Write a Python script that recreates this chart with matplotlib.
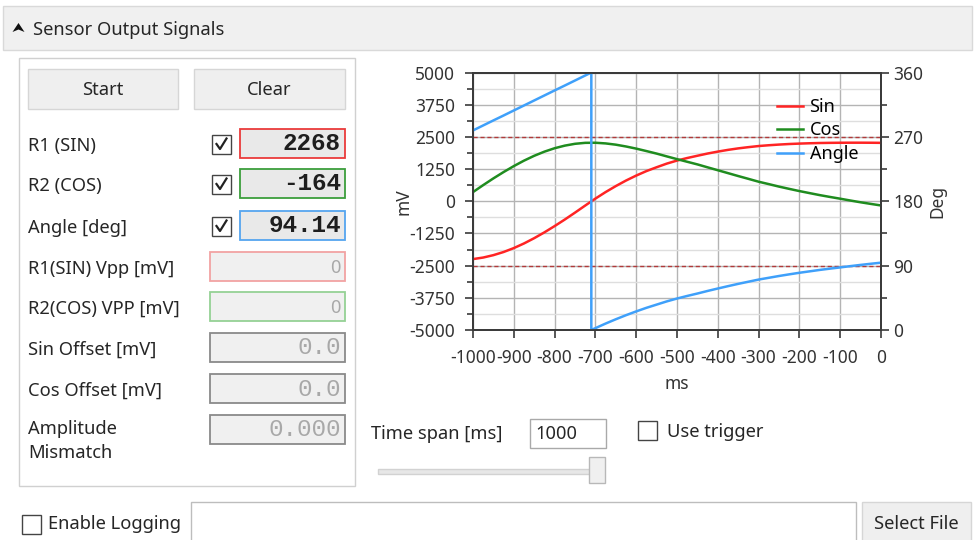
import matplotlib

matplotlib.use("Agg")
import matplotlib.pyplot as plt
from matplotlib.lines import Line2D
from matplotlib.patches import Polygon, Rectangle

plt.rcParams["font.family"] = ["Noto Sans", "DejaVu Sans"]
plt.rcParams["axes.unicode_minus"] = False

W, H = 974, 540

# --- chart data ----------------------------------------------------------
time_ms = list(range(-1000, 1, 25))
sin_mv = [-2246, -2186, -2093, -1971, -1819, -1639, -1434, -1208, -965, -710,
          -442, -167, 103, 356, 589, 804, 997, 1171, 1320, 1462, 1580, 1679,
          1767, 1853, 1928, 1995, 2053, 2101, 2144, 2175, 2201, 2223, 2239,
          2252, 2262, 2268, 2272, 2274, 2274, 2272, 2268]
cos_mv = [356, 627, 888, 1134, 1365, 1577, 1765, 1926, 2059, 2160, 2231, 2268,
          2272, 2246, 2197, 2127, 2044, 1949, 1851, 1742, 1636, 1533, 1431,
          1317, 1205, 1092, 979, 870, 759, 665, 569, 481, 395, 316, 238, 167,
          99, 28, -40, -103, -164]
angle_time_ms = [-1000, -975, -950, -925, -900, -875, -850, -825, -800, -775,
                 -750, -725, -710, -710, -700, -675, -650, -625, -600, -575,
                 -550, -525, -500, -475, -450, -425, -400, -375, -350, -325,
                 -300, -275, -250, -225, -200, -175, -150, -125, -100, -75,
                 -50, -25, 0]
angle_deg = [279.0, 286.0, 293.0, 299.9, 306.9, 313.9, 320.9, 327.9, 334.9,
             341.8, 348.8, 355.8, 360.0, 0.0, 2.6, 9.0, 15.0, 20.7, 26.0, 31.0,
             35.5, 40.0, 44.0, 47.6, 51.0, 54.6, 58.0, 61.3, 64.5, 67.5, 70.5,
             73.0, 75.5, 77.8, 80.0, 82.0, 84.0, 85.8, 87.5, 89.3, 91.0, 92.6,
             94.1]
limit_mv = [2500, -2500]
mv_ticks = [5000, 3750, 2500, 1250, 0, -1250, -2500, -3750, -5000]
mv_minor = [4375, 3125, 1875, 625, -625, -1875, -3125, -4375]
deg_ticks = [0, 90, 180, 270, 360]
deg_minor = [45, 135, 225, 315]
ms_ticks = list(range(-1000, 1, 100))

# --- left panel readouts ----------------------------------------------------
live_labels = ["R1 (SIN)", "R2 (COS)", "Angle [deg]"]
live_values = ["2268", "-164", "94.14"]
live_edges = ["#ea3b3b", "#3c9e3c", "#55a5ef"]
stat_labels = ["R1(SIN) Vpp [mV]", "R2(COS) VPP [mV]", "Sin Offset [mV]",
               "Cos Offset [mV]", "Amplitude\nMismatch"]
stat_values = ["0", "0", "0.0", "0.0", "0.000"]
stat_edges = ["#f2a3a3", "#95d195", "#8a8a8a", "#8a8a8a", "#8a8a8a"]

TXT = "#262626"
FS = 13.2
MONO = "Liberation Mono"
MFS = 17.5

fig = plt.figure(figsize=(W / 100, H / 100), dpi=100)
fig.patch.set_facecolor("white")

bg = fig.add_axes([0, 0, 1, 1])
bg.set_xlim(0, W)
bg.set_ylim(H, 0)
bg.axis("off")


def box(x0, y0, x1, y1, fc="white", ec="#c8c8c8", lw=1.0):
    bg.add_patch(Rectangle((x0, y0), x1 - x0, y1 - y0, fc=fc, ec=ec, lw=lw))


def label(x, y, s, **kw):
    # sans text sits a touch low in the native widgets
    kw.setdefault("fontsize", FS)
    kw.setdefault("color", TXT)
    kw.setdefault("va", "center")
    bg.text(x, y + 2, s, **kw)


def checkbox(x, y, checked):
    box(x, y - 9.5, x + 19, y + 9.5, fc="white", ec="#444444", lw=1.0)
    if checked:
        bg.add_line(Line2D([x + 4.5, x + 8, x + 14.5], [y, y + 5, y - 5.5],
                           color="#222222", lw=1.6))


# header strip
box(3, 6, 972, 50, fc="#f0f0f0", ec="#d9d9d9")
bg.add_patch(Polygon([(12.5, 32), (18.5, 23), (24.5, 32), (18.5, 29.5)],
                     closed=True, fc="#111111", ec="none"))
label(33, 28, "Sensor Output Signals")

# left panel
box(19, 58, 355, 486, ec="#d0d0d0")
for x0, x1, s in [(28, 178, "Start"), (194, 345, "Clear")]:
    box(x0, 69, x1, 109, fc="#efefef", ec="#d6d6d6")
    label((x0 + x1) / 2, 88, s, ha="center")

live_y = [144, 184, 226]
for y, s, val, ec in zip(live_y, live_labels, live_values, live_edges):
    label(28, y, s)
    checkbox(212, y, True)
    box(240, y - 15, 345, y + 14, fc="#e9e9e9", ec=ec, lw=1.3)
    bg.text(341, y, val, fontsize=MFS, family=MONO, weight="bold",
            color="#1e1e1e", ha="right", va="center")

stat_y = [267, 307, 348, 389, 430]
for i, (y, s, val, ec) in enumerate(zip(stat_y, stat_labels, stat_values,
                                        stat_edges)):
    label(28, 439 if i == 4 else y, s, linespacing=1.5)
    box(210, y - 15, 345, y + 14, fc="#f0f0f0", ec=ec, lw=1.3)
    if i < 2:
        label(341, y - 1, val, color="#a8a8a8", ha="right")
    else:
        bg.text(341, y, val, fontsize=MFS, family=MONO, color="#a8a8a8",
                ha="right", va="center")

# time span controls
label(371, 432, "Time span [ms]")
box(530, 419, 606, 448, ec="#a9a9a9")
label(535, 432, "1000")
checkbox(638, 430, False)
label(667, 430, "Use trigger")
box(378, 469, 600, 474, fc="#e7e7e7", ec="#d2d2d2")
box(589, 457, 605, 483, fc="#f0f0f0", ec="#b8b8b8")

# logging row
checkbox(22, 524, False)
label(48, 522, "Enable Logging")
box(191, 502, 856, 545, ec="#bdbdbd")
box(862, 502, 971, 545, fc="#efefef", ec="#d6d6d6")
label(916, 522, "Select File", ha="center")

# --- chart ------------------------------------------------------------------
L, R, T, B = 473, 881, 72.5, 330
ax = fig.add_axes([L / W, 1 - B / H, (R - L) / W, (B - T) / H])
ax.set_xlim(-1000, 0)
ax.set_ylim(-5000, 5000)
ax.set_xticks(ms_ticks)
ax.set_yticks(mv_ticks)
ax.set_yticks(mv_minor, minor=True)
ax.grid(True, which="major", color="#b4b4b4", lw=1.0)
ax.grid(True, which="minor", axis="y", color="#dedede", lw=1.0)
ax.set_axisbelow(True)
for y in limit_mv:
    ax.axhline(y, color="#b23a3a", lw=1.0, ls=(0, (3, 2)), zorder=2)

(l_sin,) = ax.plot(time_ms, sin_mv, color="#ff2424", lw=1.8, zorder=3)
(l_cos,) = ax.plot(time_ms, cos_mv, color="#1f8c1f", lw=1.8, zorder=3)

ax2 = ax.twinx()
ax2.set_ylim(0, 360)
ax2.set_yticks(deg_ticks)
ax2.set_yticks(deg_minor, minor=True)
(l_ang,) = ax2.plot(angle_time_ms, angle_deg, color="#3fa0fa", lw=1.8)

for a in (ax, ax2):
    for s in a.spines.values():
        s.set_color("#3a3a3a")
        s.set_linewidth(1.3)
    a.tick_params(which="major", length=6, width=1.2, color="#3a3a3a",
                  labelsize=12.5, labelcolor="#333333", pad=3)
    a.tick_params(which="minor", length=4, width=1.2, color="#3a3a3a")
ax.tick_params(axis="y", which="major", pad=7)
ax.tick_params(axis="x", which="major", pad=8)

ax.set_ylabel("mV", fontsize=12.5, color="#333333")
ax.yaxis.set_label_coords(-0.148, 0.5)
ax.set_xlabel("ms", fontsize=12.5, color="#333333")
ax.xaxis.set_label_coords(0.5, -0.175)
ax2.set_ylabel("Deg", fontsize=12.5, color="#333333")
ax2.yaxis.set_label_coords(1.115, 0.5)

ax2.legend([l_sin, l_cos, l_ang], ["Sin", "Cos", "Angle"], loc="upper left",
           bbox_to_anchor=(777 / W, 1 - 98 / H),
           bbox_transform=fig.transFigure, frameon=False, fontsize=13,
           handlelength=1.45, handletextpad=0.35, labelspacing=0.3,
           borderpad=0, borderaxespad=0)

fig.savefig("out.png", dpi=100)
